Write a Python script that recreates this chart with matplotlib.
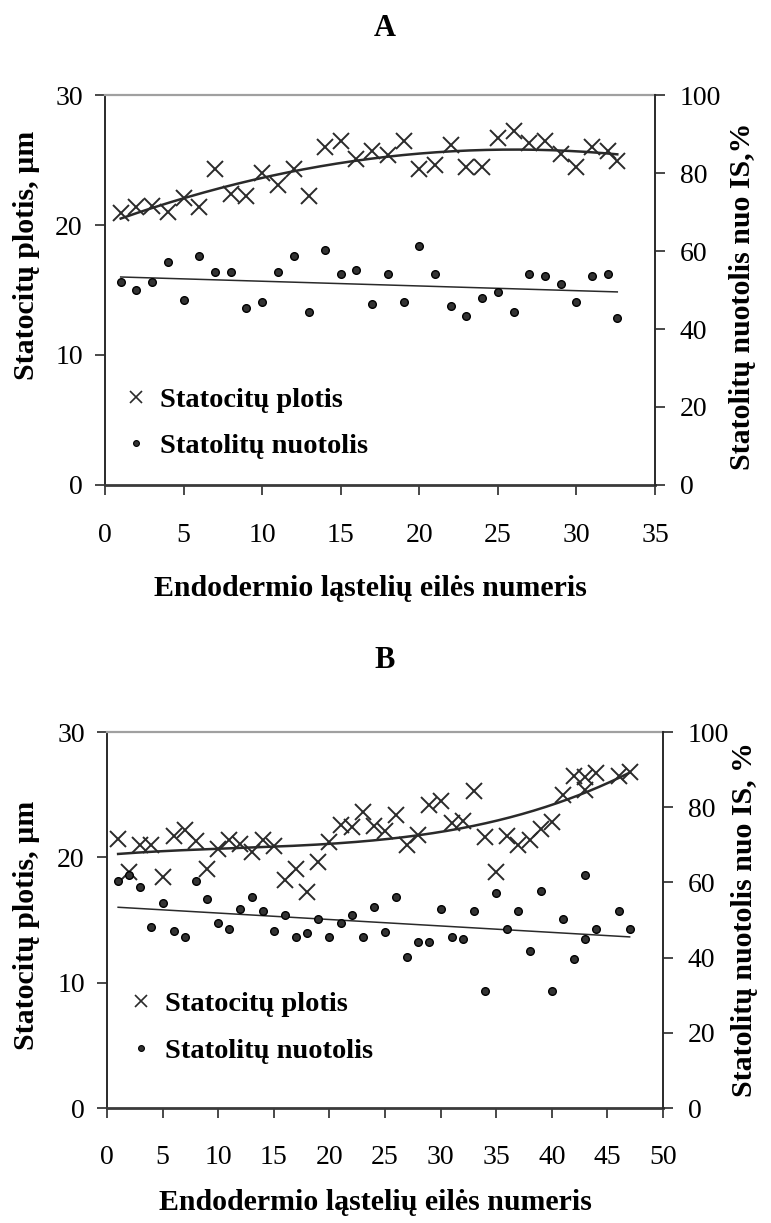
import numpy as np
import matplotlib
matplotlib.use('Agg')
import matplotlib.pyplot as plt
from matplotlib.lines import Line2D

plt.rcParams['font.family'] = 'Liberation Serif'

# panel A: cell number, statocyte width (um), statolith distance (%)
a_cell = list(range(1, 33)) + [32.6]
a_width = [20.95, 21.4, 21.5, 21.0, 22.1, 21.4, 24.3, 22.4, 22.2, 24.0, 23.1,
           24.3, 22.2, 26.0, 26.5, 25.05, 25.7, 25.4, 26.5, 24.3, 24.6, 26.15,
           24.5, 24.5, 26.7, 27.25, 26.3, 26.5, 25.5, 24.5, 25.97, 25.7, 24.9]
a_dist = [52.0, 50.0, 52.0, 57.1, 47.4, 58.7, 54.6, 54.6, 45.3, 46.9, 54.6,
          58.7, 44.4, 60.3, 54.1, 55.1, 46.4, 54.1, 46.9, 61.3, 54.1, 45.9,
          43.3, 47.9, 49.5, 44.4, 54.1, 53.6, 51.5, 46.9, 53.6, 54.1, 42.8]

# panel B
b_cell = list(range(1, 43)) + [43, 43, 44, 46, 47]
b_width = [21.5, 18.85, 20.98, 20.98, 18.45, 21.7, 22.2, 21.3, 19.1, 20.66,
           21.4, 21.06, 20.45, 21.4, 20.9, 18.2, 19.1, 17.2, 19.6, 21.2, 22.57,
           22.44, 23.6, 22.5, 22.1, 23.4, 21.0, 21.8, 24.2, 24.5, 22.7, 22.9,
           25.3, 21.6, 18.8, 21.7, 21.0, 21.4, 22.3, 22.8, 25.0, 26.5, 26.4,
           25.4, 26.75, 26.5, 26.8]
b_dist = [60.4, 61.9, 58.7, 48.1, 54.4, 47.0, 45.5, 60.4, 55.5, 49.1, 47.6,
          52.8, 56.0, 52.4, 47.0, 51.2, 45.5, 46.5, 50.2, 45.5, 49.1, 51.2,
          45.5, 53.4, 46.9, 56.0, 40.1, 44.2, 44.2, 52.8, 45.4, 44.9, 52.4,
          31.1, 57.1, 47.5, 52.4, 41.7, 57.6, 31.1, 50.2, 39.6, 61.9, 44.9,
          47.5, 52.4, 47.5]

W, H = 771, 1223
fig = plt.figure(figsize=(W / 100, H / 100), dpi=100)
dark = '#2a2a2a'
TICK = 20
LAB = 21.5


def rect(l, t, r, b):
    return [l / W, 1 - b / H, (r - l) / W, (b - t) / H]


def ftext(x, y, s, size=LAB, **kw):
    fig.text(x / W, 1 - y / H, s, fontweight='bold', fontsize=size,
             ha='center', va='center', **kw)


def panel(r, cell, width, dist, xmax, deg, leg_xy):
    ax = fig.add_axes(r)
    ax2 = ax.twinx()
    ax.set_xlim(0, xmax)
    ax.set_ylim(0, 30)
    ax2.set_ylim(0, 100)
    ax.set_xticks(range(0, xmax + 1, 5))
    ax.set_yticks([0, 10, 20, 30])
    ax2.set_yticks(range(0, 101, 20))

    x = np.array(cell, dtype=float)
    xs = np.linspace(x.min(), x.max(), 300)
    ax.plot(xs, np.polyval(np.polyfit(x, width, deg), xs), color=dark, lw=1.8)
    ax2.plot(xs, np.polyval(np.polyfit(x, dist, 1), xs), color=dark, lw=1.1)
    ax.plot(cell, width, ls='none', marker='x', ms=11, mew=1.4, color=dark)
    ax2.plot(cell, dist, ls='none', marker='o', ms=5.5, mfc='#333333',
             mec='black', mew=1)

    for s in ['top', 'left', 'bottom', 'right']:
        ax2.spines[s].set_visible(s == 'right')
    ax.spines['right'].set_visible(False)
    ax.spines['top'].set_color('#a0a0a0')
    ax.spines['top'].set_linewidth(1.6)
    ax.spines['left'].set_color(dark)
    ax.spines['left'].set_linewidth(1.4)
    ax.spines['bottom'].set_color('#3a3a3a')
    ax.spines['bottom'].set_linewidth(2)
    ax2.spines['right'].set_color(dark)
    ax2.spines['right'].set_linewidth(1.4)

    ax.tick_params(axis='y', length=7, width=1.2, color=dark, labelsize=TICK, pad=9)
    ax.tick_params(axis='x', length=7, width=1.2, color=dark, labelsize=TICK, pad=20)
    ax2.tick_params(axis='y', length=7, width=1.2, color=dark, labelsize=TICK, pad=11)

    handles = [Line2D([], [], ls='none', marker='x', ms=9, mew=1.2, color=dark),
               Line2D([], [], ls='none', marker='o', ms=4.2, mfc='#333333',
                      mec='black', mew=0.8)]
    ax.legend(handles, ['Statocitų plotis', 'Statolitų nuotolis'],
              loc='upper left', bbox_to_anchor=leg_xy, frameon=False,
              prop={'weight': 'bold', 'size': 20.5}, handlelength=0.8,
              handletextpad=0.45, labelspacing=0.72, borderpad=0, borderaxespad=0)
    return ax


panel(rect(105, 95, 655, 485), a_cell, a_width, a_dist, 35, 2, (0.035, 0.252))
ftext(385, 29, 'A', size=22)
ftext(370, 588, 'Endodermio ląstelių eilės numeris')
ftext(27, 255, 'Statocitų plotis, µm', rotation=90)
ftext(742, 296, 'Statolitų nuotolis nuo IS,%', rotation=90)

panel(rect(107, 732, 663, 1108), b_cell, b_width, b_dist, 50, 3, (0.04, 0.31))
ftext(385, 660, 'B', size=22)
ftext(375, 1203, 'Endodermio ląstelių eilės numeris')
ftext(27, 925, 'Statocitų plotis, µm', rotation=90)
ftext(745, 920, 'Statolitų nuotolis nuo IS, %', rotation=90)

fig.savefig('out.png', dpi=100)
